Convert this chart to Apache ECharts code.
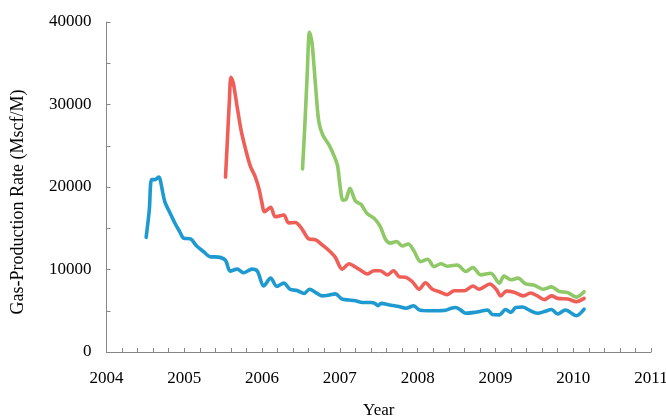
<!DOCTYPE html>
<html>
<head>
<meta charset="utf-8">
<script src="https://cdn.jsdelivr.net/npm/echarts@6/dist/echarts.min.js"></script>
<style>
html,body{margin:0;padding:0;background:#fff;}
#c{width:666px;height:420px;}
</style>
</head>
<body>
<div id="c"></div>
<script>
// ---- Data ----
var blueYears = [2004.51,2004.55,2004.58,2004.625,2004.67,2004.69,2004.75,2004.82,2004.88,2004.94,2004.99,2005.08,2005.16,2005.25,2005.33,2005.44,2005.53,2005.59,2005.68,2005.76,2005.87,2005.94,2006.02,2006.11,2006.19,2006.28,2006.36,2006.45,2006.54,2006.61,2006.69,2006.77,2006.86,2006.94,2007.03,2007.12,2007.20,2007.29,2007.40,2007.45,2007.49,2007.53,2007.64,2007.74,2007.85,2007.95,2008.02,2008.13,2008.25,2008.36,2008.43,2008.49,2008.55,2008.62,2008.73,2008.81,2008.90,2008.96,2009.05,2009.13,2009.20,2009.26,2009.35,2009.43,2009.54,2009.63,2009.72,2009.80,2009.90,2010.04,2010.14];
var blueValues = [13900,17200,20900,20900,21200,20900,18200,16800,15600,14600,13800,13700,12850,12150,11550,11500,11100,9800,10050,9600,10050,9800,8000,8950,7950,8350,7600,7450,7100,7600,7200,6800,6900,7050,6400,6300,6200,6000,6000,5900,5600,5900,5700,5550,5300,5600,5100,5000,5000,5050,5300,5400,5100,4700,4800,4950,5100,4550,4500,5150,4800,5400,5450,5100,4700,4900,5150,4600,5100,4400,5200];

var redYears = [2005.53,2005.55,2005.58,2005.60,2005.63,2005.68,2005.73,2005.79,2005.85,2005.91,2005.96,2006.00,2006.03,2006.11,2006.17,2006.28,2006.34,2006.43,2006.49,2006.54,2006.60,2006.69,2006.77,2006.86,2006.94,2007.03,2007.12,2007.20,2007.29,2007.35,2007.44,2007.52,2007.61,2007.69,2007.76,2007.85,2007.93,2008.02,2008.10,2008.19,2008.28,2008.38,2008.47,2008.60,2008.71,2008.79,2008.93,2009.01,2009.07,2009.14,2009.24,2009.36,2009.45,2009.54,2009.63,2009.72,2009.80,2009.93,2010.04,2010.14];
var redValues = [21200,24900,30500,33300,32600,29700,26900,24500,22500,21300,19800,18000,17000,17550,16400,16600,15650,15700,15200,14500,13700,13600,13000,12300,11500,10050,10700,10300,9750,9450,9850,9850,9350,9850,9150,9050,8550,7600,8400,7600,7300,6950,7430,7430,8000,7600,8250,7600,6800,7380,7250,6800,7150,6800,6350,6800,6500,6420,6100,6500];

var greenYears = [2006.52,2006.55,2006.58,2006.61,2006.64,2006.67,2006.70,2006.73,2006.78,2006.86,2006.92,2006.97,2007.00,2007.04,2007.08,2007.13,2007.20,2007.27,2007.35,2007.44,2007.52,2007.59,2007.65,2007.73,2007.80,2007.88,2007.95,2008.04,2008.13,2008.21,2008.30,2008.38,2008.51,2008.62,2008.71,2008.81,2008.94,2009.05,2009.11,2009.20,2009.29,2009.39,2009.50,2009.61,2009.72,2009.82,2009.93,2010.04,2010.14];
var greenValues = [22200,27500,33600,38750,37600,34400,30750,27900,26300,25100,23900,22600,20300,18400,18500,19850,18300,17900,16800,16200,15200,13600,13200,13400,12850,13100,12300,10950,11250,10350,10700,10400,10550,9750,10250,9350,9550,8350,9200,8750,8950,8250,8100,7600,7900,7350,7200,6650,7300];

var xTickLabels = [2004,2005,2006,2007,2008,2009,2010,2011];
var yTickLabels = [0,10000,20000,30000,40000];

function pairs(xs, ys){ return xs.map(function(x,i){ return [x, ys[i]]; }); }

var FONT = '"Liberation Serif","Times New Roman",serif';
var AX = '#868686';

var chart = echarts.init(document.getElementById('c'), null, {renderer:'canvas'});
function mkSeries(name, xs, ys, color){
  return {
    name: name, type: 'line', data: pairs(xs, ys),
    showSymbol: false, symbol: 'none', smooth: 0.3,
    lineStyle: {color: color, width: 3.6, cap: 'round', join: 'round'},
    itemStyle: {color: color},
    animation: false
  };
}
chart.setOption({
  animation: false,
  backgroundColor: '#fff',
  grid: {left: 106.5, right: 15, top: 22, bottom: 68, containLabel: false, outerBoundsMode: 'none'},
  xAxis: {
    type: 'value', min: 2004, max: 2011, interval: 0.2,
    name: 'Year', nameLocation: 'middle', nameGap: 50,
    nameTextStyle: {fontFamily: FONT, fontSize: 17, color: '#000'},
    axisLine: {show: true, lineStyle: {color: AX, width: 1}},
    axisTick: {show: true, inside: true, length: 4, lineStyle: {color: AX}},
    splitLine: {show: false},
    axisLabel: {
      fontFamily: FONT, fontSize: 17, color: '#000', margin: 18,
      formatter: function(v){
        var r = Math.round(v);
        if (Math.abs(v - r) < 1e-6 && xTickLabels.indexOf(r) >= 0) return String(r);
        return '';
      }
    }
  },
  yAxis: {
    type: 'value', min: 0, max: 40000, interval: 5000,
    name: 'Gas-Production Rate (Mscf/M)', nameLocation: 'middle', nameGap: 79, nameRotate: 90,
    nameTextStyle: {fontFamily: FONT, fontSize: 18, color: '#000', padding: [0, 30, 0, 0]},
    axisLine: {show: true, lineStyle: {color: AX, width: 1}},
    axisTick: {show: true, inside: true, length: 4, lineStyle: {color: AX}},
    splitLine: {show: false},
    axisLabel: {
      fontFamily: FONT, fontSize: 17, color: '#000', margin: 15,
      formatter: function(v){
        return yTickLabels.indexOf(v) >= 0 ? String(v) : '';
      }
    }
  },
  series: [
    mkSeries('Well A', blueYears, blueValues, '#1f9ad0'),
    mkSeries('Well B', redYears, redValues, '#ef5f58'),
    mkSeries('Well C', greenYears, greenValues, '#8fc867')
  ]
});
</script>
</body>
</html>
